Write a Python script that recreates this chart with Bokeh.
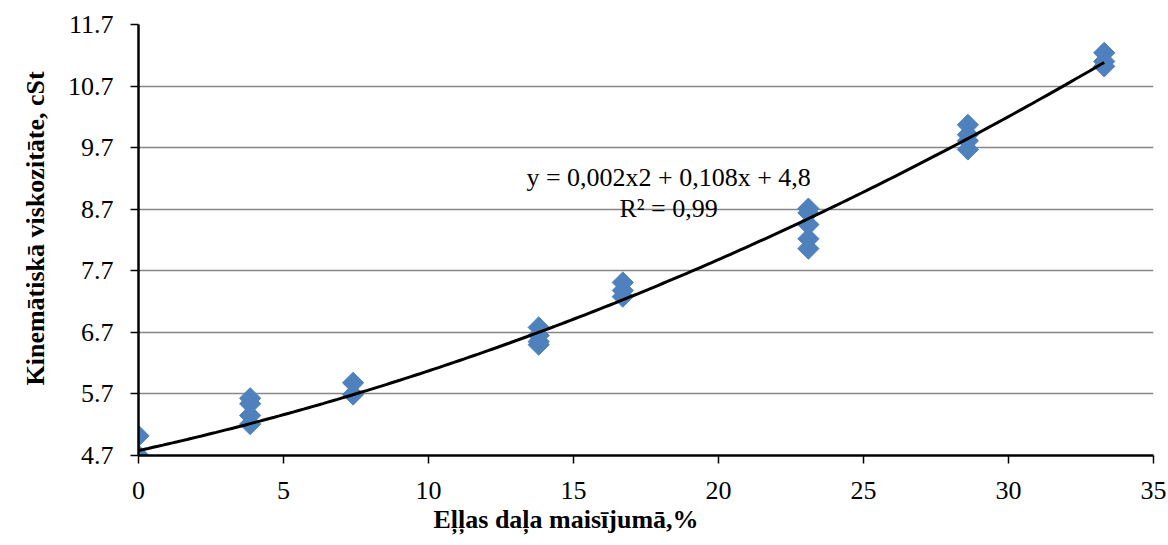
import numpy as np
from bokeh.plotting import figure
from bokeh.models import Range1d, FixedTicker, Label, Title
from bokeh.embed import file_html
from bokeh.resources import INLINE

# Data
share = [0, 0,
         3.85, 3.85, 3.85, 3.85,
         7.4, 7.4,
         13.8, 13.8, 13.8, 13.8,
         16.7, 16.7, 16.7,
         23.1, 23.1, 23.1, 23.1, 23.1,
         28.6, 28.6, 28.6, 28.6,
         33.3, 33.3, 33.3]
viscosity = [5.02, 4.70,
             5.63, 5.54, 5.35, 5.21,
             5.88, 5.69,
             6.78, 6.65, 6.55, 6.50,
             7.51, 7.38, 7.28,
             8.71, 8.64, 8.45, 8.22, 8.06,
             10.07, 9.91, 9.81, 9.67,
             11.24, 11.10, 11.02]

# Trendline coefficients as drawn
trend_coef = [0.00257, 0.1037, 4.78]

x_ticks = [0, 5, 10, 15, 20, 25, 30, 35]
y_ticks = [4.7, 5.7, 6.7, 7.7, 8.7, 9.7, 10.7, 11.7]
eq_text = "y = 0,002x2 + 0,108x + 4,8"
r2_text = "R² = 0,99"
x_title = "Eļļas daļa maisījumā,%"
y_title = "Kinemātiskā  viskozitāte, cSt"

FONT = "Liberation Serif"
FS = "26px"

p = figure(width=1168, height=545, output_backend="svg", toolbar_location=None,
           x_range=Range1d(0, 35), y_range=Range1d(4.7, 11.7),
           min_border_left=138, min_border_right=15, min_border_top=24,
           min_border_bottom=90)
p.outline_line_color = None
p.background_fill_color = "white"

# Grid
p.xgrid.grid_line_color = None
p.ygrid.grid_line_color = "#868686"
p.ygrid.grid_line_width = 1.5

# Axes
for ax in (p.xaxis[0], p.yaxis[0]):
    ax.axis_line_color = "black"
    ax.axis_line_width = 2.5
    ax.major_tick_line_color = "black"
    ax.major_tick_line_width = 1.5
    ax.major_tick_in = 0
    ax.major_tick_out = 8
    ax.minor_tick_line_color = None
    ax.major_label_text_font = FONT
    ax.major_label_text_font_size = FS
    ax.major_label_text_color = "black"

p.xaxis.ticker = FixedTicker(ticks=x_ticks)
p.yaxis.ticker = FixedTicker(ticks=y_ticks)
p.yaxis.formatter.use_scientific = False
p.xaxis.major_label_standoff = 18
p.yaxis.major_label_standoff = 17

# Axis titles (placed off-centre as in the original)
p.add_layout(Title(text=x_title, align="left", offset=295, standoff=3,
                   text_font=FONT, text_font_size=FS, text_font_style="bold",
                   text_color="black"), "below")
p.add_layout(Title(text=y_title, align="left", offset=70, standoff=30,
                   text_font=FONT, text_font_size=FS, text_font_style="bold",
                   text_color="black"), "left")

# Markers
p.scatter(share, viscosity, marker="square", angle=np.pi / 4, size=15,
          fill_color="#4F81BD", line_color="#4F81BD")

# Polynomial trendline
xs = np.linspace(0, max(share), 200)
p.line(xs, np.polyval(trend_coef, xs), line_color="black", line_width=3)

p.add_layout(Label(x=18.28, y=9.22, text=eq_text, text_font=FONT,
                   text_font_size=FS, text_align="center",
                   text_baseline="middle", text_color="black"))
p.add_layout(Label(x=18.28, y=8.71, text=r2_text, text_font=FONT,
                   text_font_size=FS, text_align="center",
                   text_baseline="middle", text_color="black"))

open("out.html", "w").write(file_html(p, INLINE))
